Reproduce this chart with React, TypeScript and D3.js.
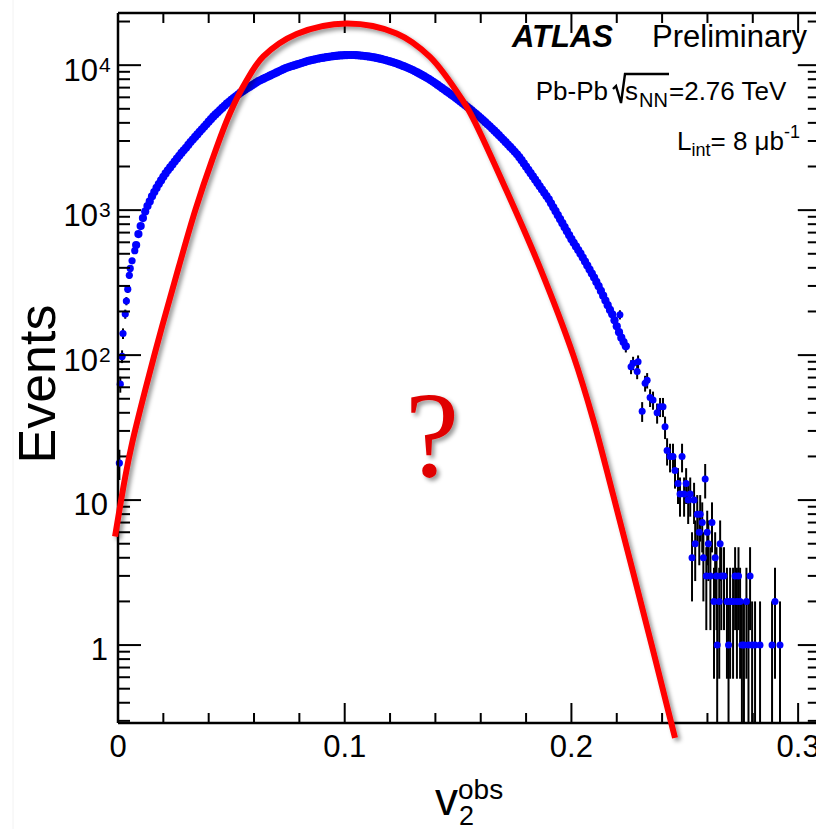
import React from 'react';
import * as d3 from 'd3';

const W = 816;
const H = 829;

// ---- Data: observed v2 distribution (Events per bin) ----
// steep rise at very small v2
const leftV2 = [0.0006, 0.001, 0.0018, 0.0022, 0.0032, 0.0037, 0.0043, 0.005, 0.0054, 0.0062, 0.0074];
const leftEvents = [18, 63, 98, 141, 192, 236, 285, 355, 396, 447, 525];

// main body of the distribution, bins of 0.001 from v2 = 0.008 to 0.224
const mainV2 = [
  0.008, 0.009, 0.010, 0.011, 0.012, 0.013, 0.014, 0.015, 0.016, 0.017, 0.018, 0.019,
  0.020, 0.021, 0.022, 0.023, 0.024, 0.025, 0.026, 0.027, 0.028, 0.029,
  0.030, 0.031, 0.032, 0.033, 0.034, 0.035, 0.036, 0.037, 0.038, 0.039,
  0.040, 0.041, 0.042, 0.043, 0.044, 0.045, 0.046, 0.047, 0.048, 0.049,
  0.050, 0.051, 0.052, 0.053, 0.054, 0.055, 0.056, 0.057, 0.058, 0.059,
  0.060, 0.061, 0.062, 0.063, 0.064, 0.065, 0.066, 0.067, 0.068, 0.069,
  0.070, 0.071, 0.072, 0.073, 0.074, 0.075, 0.076, 0.077, 0.078, 0.079,
  0.080, 0.081, 0.082, 0.083, 0.084, 0.085, 0.086, 0.087, 0.088, 0.089,
  0.090, 0.091, 0.092, 0.093, 0.094, 0.095, 0.096, 0.097, 0.098, 0.099,
  0.100, 0.101, 0.102, 0.103, 0.104, 0.105, 0.106, 0.107, 0.108, 0.109,
  0.110, 0.111, 0.112, 0.113, 0.114, 0.115, 0.116, 0.117, 0.118, 0.119,
  0.120, 0.121, 0.122, 0.123, 0.124, 0.125, 0.126, 0.127, 0.128, 0.129,
  0.130, 0.131, 0.132, 0.133, 0.134, 0.135, 0.136, 0.137, 0.138, 0.139,
  0.140, 0.141, 0.142, 0.143, 0.144, 0.145, 0.146, 0.147, 0.148, 0.149,
  0.150, 0.151, 0.152, 0.153, 0.154, 0.155, 0.156, 0.157, 0.158, 0.159,
  0.160, 0.161, 0.162, 0.163, 0.164, 0.165, 0.166, 0.167, 0.168, 0.169,
  0.170, 0.171, 0.172, 0.173, 0.174, 0.175, 0.176, 0.177, 0.178, 0.179,
  0.180, 0.181, 0.182, 0.183, 0.184, 0.185, 0.186, 0.187, 0.188, 0.189,
  0.190, 0.191, 0.192, 0.193, 0.194, 0.195, 0.196, 0.197, 0.198, 0.199,
  0.200, 0.201, 0.202, 0.203, 0.204, 0.205, 0.206, 0.207, 0.208, 0.209,
  0.210, 0.211, 0.212, 0.213, 0.214, 0.215, 0.216, 0.217, 0.218, 0.219,
  0.220, 0.221, 0.222, 0.223, 0.224,
];
const mainEvents = [
  575, 684, 776, 881, 977, 1067, 1148, 1245, 1334, 1422, 1514, 1603,
  1698, 1791, 1884, 1972, 2065, 2163, 2265, 2371, 2483, 2588,
  2692, 2818, 2951, 3072, 3199, 3330, 3467, 3610, 3758, 3913,
  4074, 4242, 4416, 4571, 4732, 4898, 5070, 5248, 5433, 5591,
  5754, 5922, 6095, 6273, 6457, 6607, 6761, 6918, 7079, 7244,
  7413, 7586, 7762, 7897, 8035, 8175, 8318, 8463, 8610, 8760,
  8913, 9068, 9226, 9387, 9550, 9660, 9772, 9885, 10000, 10115,
  10230, 10350, 10470, 10595, 10720, 10805, 10890, 10980, 11070, 11145,
  11220, 11285, 11350, 11415, 11480, 11535, 11590, 11630, 11670, 11695,
  11720, 11735, 11750, 11755, 11750, 11720, 11690, 11650, 11610, 11560,
  11510, 11445, 11380, 11300, 11220, 11130, 11040, 10940, 10840, 10730,
  10620, 10500, 10380, 10250, 10120, 9980, 9840, 9695, 9550, 9400,
  9250, 9080, 8913, 8740, 8570, 8395, 8222, 8045, 7870, 7682,
  7499, 7303, 7112, 6934, 6761, 6592, 6427, 6259, 6095, 5936,
  5781, 5623, 5470, 5315, 5164, 5017, 4875, 4731, 4592, 4452,
  4315, 4178, 4046, 3913, 3784, 3656, 3532, 3408, 3289, 3170,
  3055, 2941, 2831, 2729, 2630, 2527, 2427, 2318, 2213, 2101,
  1995, 1894, 1799, 1708, 1622, 1540, 1462, 1388, 1318, 1252,
  1189, 1116, 1047, 983, 923, 866, 813, 763, 716, 672,
  631, 595, 562, 531, 501, 471, 442, 415, 389, 365,
  343, 320, 299, 277, 257, 238, 221, 205, 191, 174,
  158, 144, 132, 123, 115,
];

// fluctuating high-v2 tail
const tailV2 = [
  0.2214, 0.2263, 0.2272, 0.229, 0.2294, 0.2312, 0.2325, 0.2334, 0.2347, 0.236,
  0.2378, 0.2391, 0.2404, 0.2413, 0.2422, 0.2435, 0.2448, 0.2457, 0.247, 0.2479,
  0.2488, 0.2497, 0.2506, 0.2515, 0.2524, 0.2532, 0.2541, 0.2546, 0.2555, 0.2564,
  0.2568, 0.2577, 0.2582, 0.259, 0.2595, 0.2599, 0.2604, 0.2613, 0.262, 0.2629,
  0.2634, 0.264, 0.2643, 0.2652, 0.2656, 0.2661, 0.2673, 0.2686, 0.2693, 0.27,
  0.2713, 0.2722, 0.273, 0.2737, 0.2744, 0.2752, 0.2761, 0.2772, 0.2781, 0.2788,
  0.2797, 0.281, 0.2832, 0.2885, 0.2898, 0.292,
];
const tailEvents = [
  190, 83, 88, 77, 90, 41, 64, 67, 51, 49,
  40, 44, 44, 32, 22, 20, 20, 16, 13, 11,
  20, 11, 13, 10, 11, 4, 10, 5, 8, 6,
  8, 7, 4, 14, 3, 6, 5, 3, 7, 2,
  4, 3, 1, 2, 5, 3, 3, 2, 1, 2,
  2, 3, 2, 3, 2, 1, 1, 2, 1, 3,
  1, 1, 1, 1, 2, 1,
];

// ---- Hand-drawn red curve ----
const fitV2 = [
  -0.0013, 0.0032, 0.0062, 0.012, 0.0194, 0.0268, 0.0341, 0.0415, 0.049, 0.0562,
  0.0641, 0.0788, 0.1009, 0.1229, 0.1376, 0.1523, 0.1567, 0.1715, 0.1862, 0.2008,
  0.2097, 0.2185, 0.2354, 0.2444, 0.2457,
];
const fitEvents = [
  5.6, 14.5, 24.6, 57.4, 157, 406, 1000, 2213, 4519, 7586,
  11480, 16410, 19410, 16560, 11400, 5623, 4266, 1349, 398, 100,
  35.5, 10.7, 1.0, 0.275, 0.229,
];

// ---- Axis tick values ----
const xMajorTicks = [0, 0.1, 0.2, 0.3];
const xMajorLabels = ['0', '0.1', '0.2', '0.3'];
const yMajorTicks = [1, 10, 100, 1000, 10000];
const yMajorBase = ['1', '10', '10', '10', '10'];
const yMajorExp = ['', '', '2', '3', '4'];

const FONT = '"Liberation Sans", Arial, Helvetica, sans-serif';

export default function App() {
  const left = 118;
  const right = 820.8;
  const top = 13;
  const bottom = 723;
  const x = d3.scaleLinear().domain([0, 0.31]).range([left, right]);
  const y = d3.scaleLog().domain([0.29, 22900]).range([bottom, top]);

  const pts: { v: number; n: number; r: number }[] = [];
  leftV2.forEach((v, i) => pts.push({ v, n: leftEvents[i], r: 3.6 }));
  mainV2.forEach((v, i) => pts.push({ v, n: mainEvents[i], r: 4.1 }));
  tailV2.forEach((v, i) => pts.push({ v, n: tailEvents[i], r: 3.5 }));

  const yMinor: number[] = [];
  [0.1, 1, 10, 100, 1000, 10000].forEach((d) => {
    for (let k = 2; k <= 9; k++) {
      const v = k * d;
      if (v >= 0.29 && v <= 22900) yMinor.push(v);
    }
  });
  const xMinor: number[] = [];
  for (let i = 0; i <= 15; i++) {
    if (i % 5 !== 0) xMinor.push(i * 0.02);
  }

  const fitPts: [number, number][] = fitV2.map((v, i) => [v, fitEvents[i]]);
  const fitLine = d3
    .line<[number, number]>()
    .x((d) => x(d[0]))
    .y((d) => y(d[1]))
    .curve(d3.curveCatmullRom.alpha(0.5));

  const clampY = (v: number) => y(Math.max(v, 0.29));

  return (
    <svg
      width={W}
      height={H}
      style={{ position: 'absolute', left: 0, top: 0, background: '#fff' }}
      fontFamily={FONT}
    >
      <defs>
        <filter id="shadow" x="-20%" y="-20%" width="150%" height="150%">
          <feDropShadow dx="3" dy="3" stdDeviation="2" floodColor="#000" floodOpacity="0.4" />
        </filter>
      </defs>
      <rect x={0} y={0} width={W} height={H} fill="#fff" />
      <line x1={13} x2={13} y1={0} y2={H} stroke="#f2f2f2" strokeWidth={1} />

      {/* error bars */}
      <g stroke="#000" strokeWidth={2}>
        {pts.map((p, i) => {
          const e = Math.sqrt(p.n);
          return (
            <line key={'e' + i} x1={x(p.v)} x2={x(p.v)} y1={clampY(p.n - e)} y2={y(p.n + e)} />
          );
        })}
      </g>
      {/* markers */}
      <g fill="#0000ff">
        {pts.map((p, i) => (
          <circle key={'c' + i} cx={x(p.v)} cy={y(p.n)} r={p.r} />
        ))}
      </g>

      {/* frame */}
      <g stroke="#000" strokeWidth={2.5} fill="none">
        <line x1={left} x2={left} y1={top} y2={bottom} />
        <line x1={left} x2={right} y1={bottom} y2={bottom} />
        <line x1={left} x2={right} y1={top} y2={top} />
        <line x1={right} x2={right} y1={top} y2={bottom} />
      </g>
      {/* ticks */}
      <g stroke="#000" strokeWidth={2}>
        {yMajorTicks.map((t) => (
          <g key={'ym' + t}>
            <line x1={left} x2={left + 23} y1={y(t)} y2={y(t)} />
            <line x1={right} x2={right - 23} y1={y(t)} y2={y(t)} />
          </g>
        ))}
        {yMinor.map((t) => (
          <g key={'yn' + t}>
            <line x1={left} x2={left + 12} y1={y(t)} y2={y(t)} />
            <line x1={right} x2={right - 13} y1={y(t)} y2={y(t)} />
          </g>
        ))}
        {xMajorTicks.map((t) => (
          <g key={'xm' + t}>
            <line x1={x(t)} x2={x(t)} y1={bottom} y2={bottom - 20} />
            <line x1={x(t)} x2={x(t)} y1={top} y2={top + 20} />
          </g>
        ))}
        {xMinor.map((t) => (
          <g key={'xn' + t}>
            <line x1={x(t)} x2={x(t)} y1={bottom} y2={bottom - 10} />
            <line x1={x(t)} x2={x(t)} y1={top} y2={top + 10} />
          </g>
        ))}
      </g>

      {/* tick labels */}
      <g fontSize={31} fill="#000">
        {xMajorTicks.map((t, i) => (
          <text key={'xl' + t} x={x(t)} y={757} textAnchor="middle">
            {xMajorLabels[i]}
          </text>
        ))}
        {yMajorTicks.map((t, i) =>
          yMajorExp[i] ? (
            <g key={'yl' + t}>
              <text x={98} y={y(t) + 16} textAnchor="end">
                {yMajorBase[i]}
              </text>
              <text x={99} y={y(t) + 7} fontSize={21}>
                {yMajorExp[i]}
              </text>
            </g>
          ) : (
            <text key={'yl' + t} x={108} y={y(t) + 15} textAnchor="end">
              {yMajorBase[i]}
            </text>
          )
        )}
      </g>

      {/* axis titles */}
      <text transform="translate(55,384) rotate(-90)" textAnchor="middle" fontSize={52} fill="#000">
        Events
      </text>
      <g fill="#000">
        <text x={435} y={815} fontSize={46}>v</text>
        <text x={458} y={799} fontSize={28}>obs</text>
        <text x={459} y={825} fontSize={27}>2</text>
      </g>

      {/* ATLAS labels */}
      <g fill="#000">
        <text x={512} y={47} fontSize={31} fontWeight="bold" fontStyle="italic">ATLAS</text>
        <text x={652} y={47} fontSize={31}>Preliminary</text>
        <text x={608} y={100} fontSize={26} textAnchor="end">Pb-Pb</text>
        <path d="M613,89 L616,86 L621,103 L625,74 L669,74" stroke="#000" strokeWidth={2.4} fill="none" />
        <text x={625} y={100} fontSize={26}>s</text>
        <text x={639} y={107} fontSize={20}>NN</text>
        <text x={669} y={100} fontSize={26}>=2.76 TeV</text>
        <text x={677} y={150} fontSize={26}>
          L<tspan fontSize={18} dy={6}>int</tspan>
          <tspan dy={-6}>= 8 μb</tspan>
          <tspan fontSize={18} dy={-12}>-1</tspan>
        </text>
      </g>

      {/* red overlay */}
      <path
        d={fitLine(fitPts) || ''}
        fill="none"
        stroke="#ff0000"
        strokeWidth={6}
        filter="url(#shadow)"
      />
      <text
        x={432}
        y={476}
        fontSize={122}
        textAnchor="middle"
        fill="#e00000"
        fontFamily='"Liberation Serif", "Times New Roman", serif'
        filter="url(#shadow)"
      >
        ?
      </text>
    </svg>
  );
}
